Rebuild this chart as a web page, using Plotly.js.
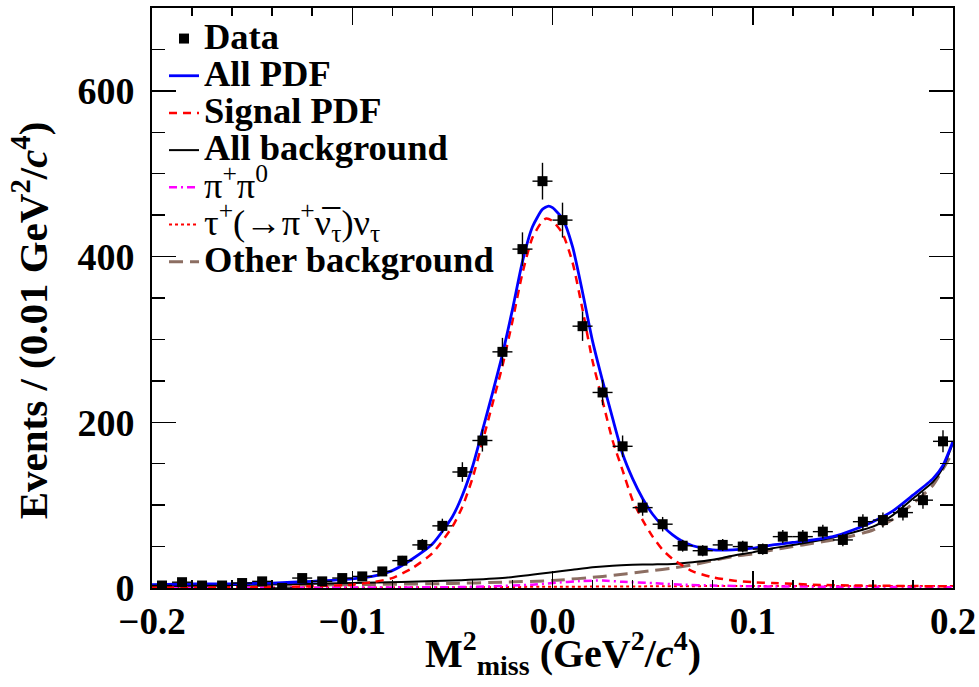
<!DOCTYPE html>
<html>
<head>
<meta charset="utf-8">
<script src="https://cdn.plot.ly/plotly-3.0.1.min.js"></script>
<style>html,body{margin:0;padding:0;background:#fff;}#chart{width:979px;height:687px;}</style>
</head>
<body>
<div id="chart"></div>
<script>
// ---- Data points (bin centres, counts) ----
const dataX = [-0.195,-0.185,-0.175,-0.165,-0.155,-0.145,-0.135,-0.125,-0.115,-0.105,
               -0.095,-0.085,-0.075,-0.065,-0.055,-0.045,-0.035,-0.025,-0.015,-0.005,
                0.005, 0.015, 0.025, 0.035, 0.045, 0.055, 0.065, 0.075, 0.085, 0.095,
                0.105, 0.115, 0.125, 0.135, 0.145, 0.155, 0.165, 0.175, 0.185, 0.195];
const dataY = [3,7,3,3,6,8,0,12,8,12,
               14,20,33,52,75,140,178,285,409,491,
               444,316,236,171,97,77,51,45,52,50,
               47,62,62,68,58,80,82,91,106,177];
const dataXErr = [0.005];   // half bin width (0.01 GeV^2/c^4 bins)

// ---- All PDF ----
const allX = [-0.2,-0.18,-0.16,-0.14,-0.12,-0.1,-0.09,-0.08,-0.07,-0.06,-0.05,-0.045,-0.04,-0.035,-0.03,-0.025,-0.02,-0.015,-0.01,-0.005,-0.002,0,0.005,0.01,0.015,0.02,0.025,0.03,0.035,0.04,0.045,0.05,0.055,0.06,0.065,0.07,0.08,0.09,0.1,0.11,0.12,0.13,0.14,0.15,0.16,0.17,0.18,0.19,0.195,0.2];
const allY = [4,5,5,6,8,11,14,21,35,53,86,112,146,190,235,282,336,394,436,457,461,459,446,412,357,298,250,205,162,132,108,89,75,64,56,51,46,46,48,52,55,58,62,70,80,93,112,132,148,177];

// ---- Signal PDF ----
const sigX = [-0.2,-0.15,-0.12,-0.1,-0.09,-0.08,-0.07,-0.06,-0.05,-0.045,-0.04,-0.035,-0.03,-0.025,-0.02,-0.015,-0.01,-0.005,-0.003,0,0.005,0.01,0.015,0.02,0.025,0.03,0.035,0.04,0.045,0.05,0.055,0.06,0.065,0.07,0.08,0.09,0.1,0.11,0.12,0.13,0.15,0.2];
const sigY = [0.5,1,2,4,7,12,24,42,74,98,132,176,222,268,322,380,423,443,446,443,428,393,336,274,226,178,142,106,82,62,46,35,27,20,13,9,7,6,5,4,3,2];

// ---- All background ----
const bkgX = [-0.2,-0.15,-0.1,-0.05,-0.025,0,0.01,0.02,0.03,0.04,0.05,0.06,0.07,0.08,0.09,0.1,0.11,0.12,0.13,0.14,0.15,0.16,0.17,0.18,0.19,0.195,0.2];
const bkgY = [2,4,6,9,12,19,22,25,27,28,28.5,29,31,34,39,43,48,52,56,61,67,74,88,108,128,145,175];

// ---- pi+ pi0 ----
const ppX = [-0.2,-0.1,-0.05,-0.03,-0.01,0,0.015,0.025,0.035,0.05,0.065,0.08,0.1,0.15,0.2];
const ppY = [0.3,0.5,1,2,4,6,8.5,9,7.5,6,4,3,2,1.5,1];

// ---- tau+ nu ----
const tauX = [-0.2,-0.1,-0.05,0,0.05,0.1,0.15,0.2];
const tauY = [0.3,0.6,1,1.5,2,2.5,2.5,2.5];

// ---- Other background ----
const othX = [-0.2,-0.15,-0.1,-0.05,-0.025,0,0.025,0.05,0.06,0.07,0.08,0.09,0.1,0.11,0.12,0.13,0.14,0.15,0.16,0.17,0.18,0.19,0.2];
const othY = [2,3,4,5.5,7,9,14,21,24,28,33,38,41,46,50,54,58,63,70,83,102,124,165];

// ---- axis ticks and titles ----
const xTickVals = [-0.2,-0.1,0.0,0.1,0.2];
const yTickVals = [0,200,400,600];
const xTitle = '<b>M<sup>2</sup><sub>miss</sub> (GeV<sup>2</sup>/<i>c</i><sup>4</sup>)</b>';
const yTitle = '<b>Events / (0.01 GeV<sup>2</sup>/<i>c</i><sup>4</sup>)</b>';

const FONT = "Liberation Serif";
const big = s => '<span style="font-family:Liberation Serif;font-size:36.5px">' + s + '</span>';

const curve = (x, y, name, color, width, dash, rank) => ({
  x: x, y: y, type: 'scatter', mode: 'lines', name: name,
  line: {color: color, width: width, dash: dash, shape: 'spline', smoothing: 0.6},
  legendrank: rank, hoverinfo: 'skip'
});

const traces = [
  curve(othX, othY, big('<b>Other background</b>'), '#8c6e62', 3, '14px,7px', 7),
  curve(tauX, tauY, big('τ<sup>+</sup>(→π<sup>+</sup>ν\u0305<sub>τ</sub>)ν<sub>τ</sub>'), '#ff0000', 2, 'dot', 6),
  curve(ppX, ppY, big('π<sup>+</sup>π<sup>0</sup>'), '#ff00ff', 2.5, '8px,4px,2px,4px', 5),
  curve(bkgX, bkgY, big('<b>All background</b>'), '#000000', 2, 'solid', 4),
  curve(sigX, sigY, big('<b>Signal PDF</b>'), '#ff0000', 2.5, '8px,6px', 3),
  curve(allX, allY, big('<b>All PDF</b>'), '#0000ff', 2.8, 'solid', 2),
  {
    x: dataX, y: dataY, type: 'scatter', mode: 'markers', name: big('<b>Data</b>'),
    marker: {symbol: 'square', size: 10, color: '#000000'},
    error_y: {type: 'data', array: dataY.map(v => Math.sqrt(v)), color: '#000', thickness: 1.4, width: 0},
    error_x: {type: 'constant', value: dataXErr[0], color: '#000', thickness: 1.4, width: 0},
    legendrank: 1, hoverinfo: 'skip'
  }
];

const layout = {
  width: 979, height: 687,
  margin: {l: 152, r: 26, t: 8, b: 99},
  paper_bgcolor: '#fff', plot_bgcolor: '#fff',
  font: {family: FONT, color: '#000'},
  showlegend: true,
  legend: {
    x: 0.015, y: 0.988, xanchor: 'left', yanchor: 'top',
    bgcolor: 'rgba(0,0,0,0)', borderwidth: 0,
    font: {family: FONT, size: 26.3, color: '#000'},
    traceorder: 'normal', itemwidth: 30
  },
  xaxis: {
    range: [-0.2, 0.2], tickvals: xTickVals, tickformat: '.1f',
    showgrid: false, zeroline: false,
    showline: true, linecolor: '#000', linewidth: 2, mirror: 'allticks',
    ticks: 'inside', ticklen: 17, tickwidth: 1.5, tickcolor: '#000',
    minor: {dtick: 0.02, ticks: 'inside', ticklen: 8, tickwidth: 1.5, tickcolor: '#000', showgrid: false},
    tickfont: {family: FONT, size: 37, weight: 'bold'},
    ticklabelstandoff: 0
  },
  yaxis: {
    range: [0, 700], tickvals: yTickVals,
    showgrid: false, zeroline: false,
    showline: true, linecolor: '#000', linewidth: 2, mirror: 'allticks',
    ticks: 'inside', ticklen: 24, tickwidth: 1.5, tickcolor: '#000',
    minor: {dtick: 50, ticks: 'inside', ticklen: 13, tickwidth: 1.5, tickcolor: '#000', showgrid: false},
    tickfont: {family: FONT, size: 38, weight: 'bold'},
    ticklabelstandoff: 8
  },
  annotations: [
    {text: xTitle, xref: 'paper', yref: 'paper', x: 0.513, y: -0.112, xanchor: 'center', yanchor: 'middle',
     showarrow: false, font: {family: FONT, size: 40, color: '#000'}},
    {text: yTitle, xref: 'paper', yref: 'paper', x: -0.152, y: 0.462, xanchor: 'center', yanchor: 'middle',
     textangle: -90, showarrow: false, font: {family: FONT, size: 41, color: '#000'}}
  ]
};

Plotly.newPlot('chart', traces, layout, {staticPlot: true, displayModeBar: false});
</script>
</body>
</html>
